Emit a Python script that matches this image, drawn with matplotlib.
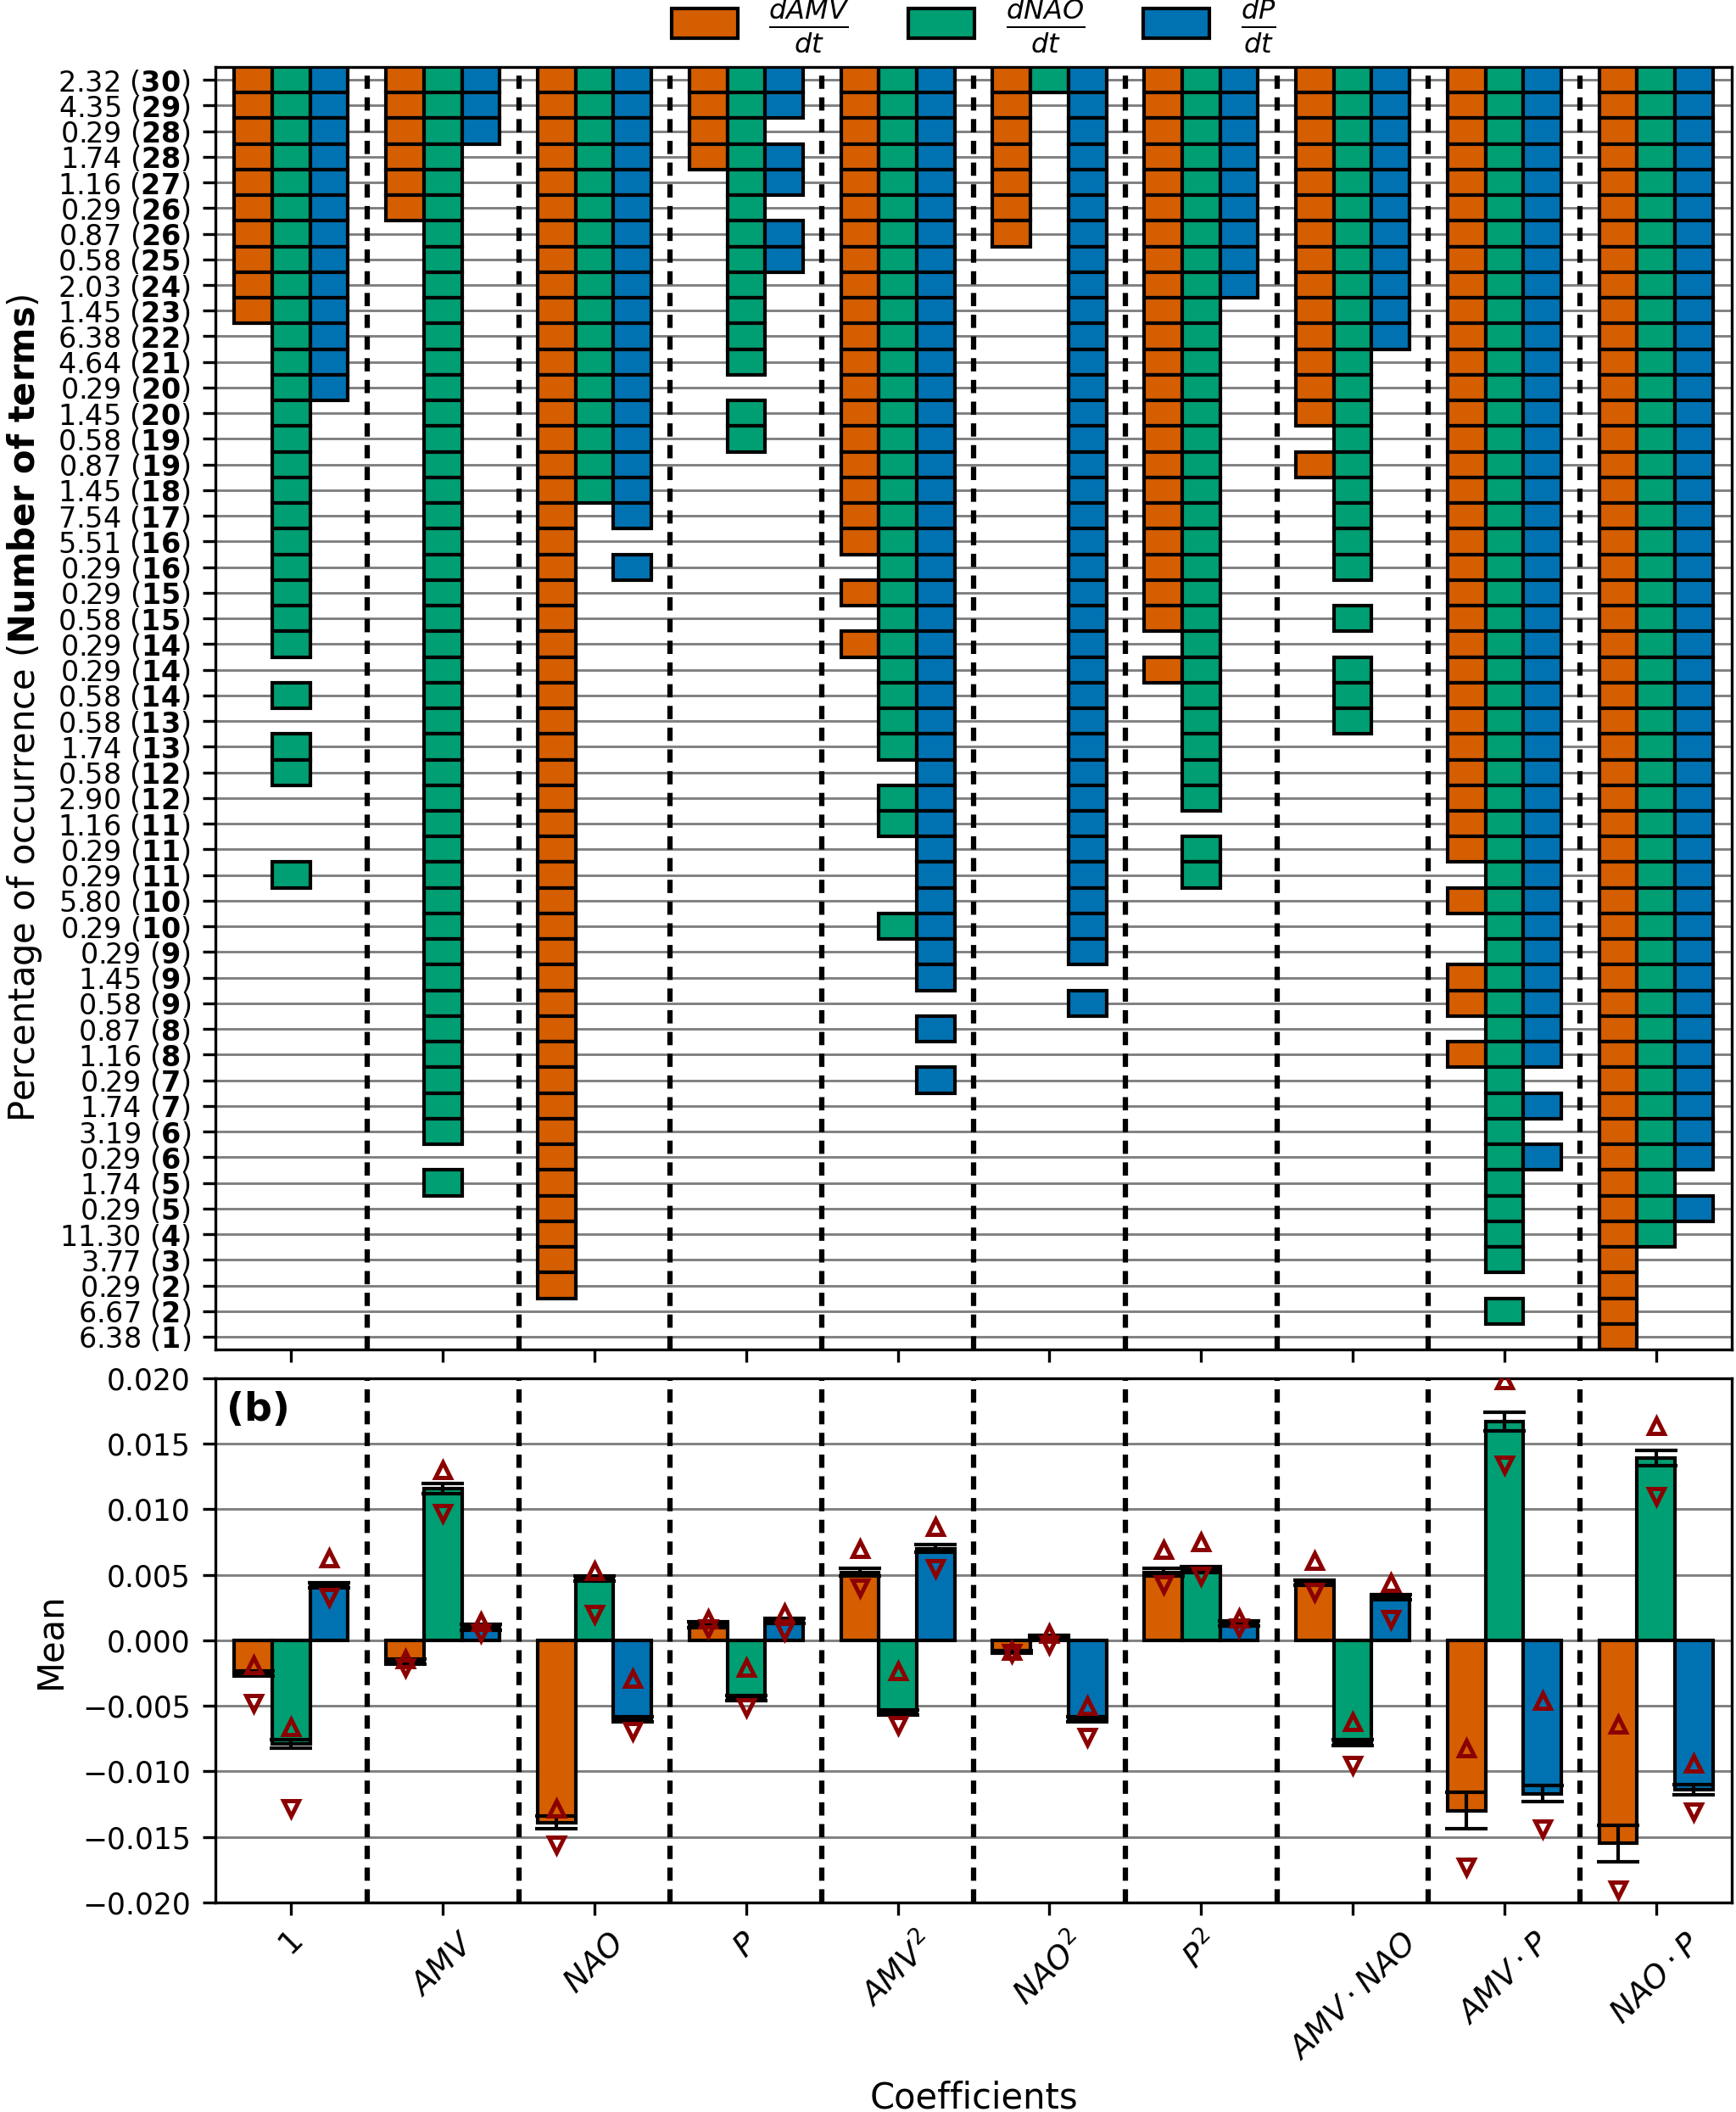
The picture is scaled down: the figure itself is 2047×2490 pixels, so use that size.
import matplotlib
matplotlib.use('Agg')
import matplotlib.pyplot as plt
import numpy as np

# rows of the top panel (top to bottom): percentage of occurrence and number of terms
pct = [2.32, 4.35, 0.29, 1.74, 1.16, 0.29, 0.87, 0.58, 2.03, 1.45,
       6.38, 4.64, 0.29, 1.45, 0.58, 0.87, 1.45, 7.54, 5.51, 0.29,
       0.29, 0.58, 0.29, 0.29, 0.58, 0.58, 1.74, 0.58, 2.90, 1.16,
       0.29, 0.29, 5.80, 0.29, 0.29, 1.45, 0.58, 0.87, 1.16, 0.29,
       1.74, 3.19, 0.29, 1.74, 0.29, 11.30, 3.77, 0.29, 6.67, 6.38]
n_terms = [30, 29, 28, 28, 27, 26, 26, 25, 24, 23,
           22, 21, 20, 20, 19, 19, 18, 17, 16, 16,
           15, 15, 14, 14, 14, 13, 13, 12, 12, 11,
           11, 11, 10, 10, 9, 9, 9, 8, 8, 7,
           7, 6, 6, 5, 5, 4, 3, 2, 2, 1]

coefs = ['$1$', '$AMV$', '$NAO$', '$P$', '$AMV^2$', '$NAO^2$', '$P^2$',
         r'$AMV \cdot NAO$', r'$AMV \cdot P$', r'$NAO \cdot P$']

# rows (1-based, inclusive spans) where each term is present, one list per coefficient
rows_amv = [[(1, 10)], [(1, 6)], [(1, 48)], [(1, 4)],
            [(1, 19), (21, 21), (23, 23)], [(1, 7)], [(1, 22), (24, 24)],
            [(1, 14), (16, 16)], [(1, 31), (33, 33), (36, 37), (39, 39)], [(1, 50)]]
rows_nao = [[(1, 23), (25, 25), (27, 28), (32, 32)], [(1, 42), (44, 44)], [(1, 17)],
            [(1, 12), (14, 15)], [(1, 27), (29, 30), (34, 34)], [(1, 1)],
            [(1, 29), (31, 32)], [(1, 20), (22, 22), (24, 26)], [(1, 47), (49, 49)], [(1, 46)]]
rows_p = [[(1, 13)], [(1, 3)], [(1, 18), (20, 20)], [(1, 2), (4, 5), (7, 8)],
          [(1, 36), (38, 38), (40, 40)], [(1, 35), (37, 37)], [(1, 9)], [(1, 11)],
          [(1, 39), (41, 41), (43, 43)], [(1, 43), (45, 45)]]

# bottom panel: mean, error and upper/lower markers
mean_amv = [-0.0025, -0.0016, -0.0139, 0.0012, 0.0052, -0.0009, 0.0052, 0.0044, -0.0130, -0.0155]
err_amv = [0.0002, 0.0002, 0.0005, 0.0002, 0.0003, 0.0001, 0.0003, 0.0002, 0.0014, 0.0014]
mean_nao = [-0.0079, 0.0116, 0.0047, -0.0044, -0.0055, 0.0003, 0.0054, -0.0078, 0.0167, 0.0139]
err_nao = [0.0003, 0.0004, 0.0002, 0.0002, 0.0002, 0.0001, 0.0002, 0.0002, 0.0007, 0.0006]
mean_p = [0.0042, 0.0010, -0.0060, 0.0015, 0.0070, -0.0060, 0.0013, 0.0033, -0.0117, -0.0114]
err_p = [0.0002, 0.0002, 0.0002, 0.0002, 0.0003, 0.0002, 0.0002, 0.0002, 0.0006, 0.0004]

up_amv = [-0.0019, -0.0014, -0.0128, 0.0016, 0.0070, -0.0008, 0.0069, 0.0061, -0.0082, -0.0064]
lo_amv = [-0.0048, -0.0021, -0.0156, 0.0009, 0.0040, -0.0010, 0.0043, 0.0037, -0.0173, -0.0190]
up_nao = [-0.0066, 0.0130, 0.0053, -0.0021, -0.0023, 0.0005, 0.0075, -0.0062, 0.0199, 0.0164]
lo_nao = [-0.0128, 0.0097, 0.0020, -0.0051, -0.0065, -0.0003, 0.0049, -0.0095, 0.0134, 0.0110]
up_p = [0.0063, 0.0014, -0.0029, 0.0021, 0.0087, -0.0050, 0.0017, 0.0044, -0.0046, -0.0094]
lo_p = [0.0033, 0.0006, -0.0069, 0.0007, 0.0055, -0.0074, 0.0010, 0.0016, -0.0144, -0.0131]

colors = ['#D55E00', '#009E73', '#0072B2']
eq_labels = [r'$\frac{dAMV}{dt}$', r'$\frac{dNAO}{dt}$', r'$\frac{dP}{dt}$']
width = 0.25
offsets = [-width, 0, width]

fig = plt.figure(figsize=(2047 / 300, 2490 / 300), dpi=300)
ax1 = fig.add_axes([0.1241, 0.3610, 0.8735, 0.6073])
ax2 = fig.add_axes([0.1241, 0.0992, 0.8735, 0.2482])

x = np.arange(len(coefs))
nrows = len(pct)

# ---- top panel: presence grid
handles = []
for k, rows_eq in enumerate([rows_amv, rows_nao, rows_p]):
    for i, spans in enumerate(rows_eq):
        cells = [r for a, b in spans for r in range(a, b + 1)]
        b = ax1.bar(np.full(len(cells), x[i] + offsets[k]), 1, bottom=np.array(cells) - 0.5,
                    width=width, color=colors[k], edgecolor='k', linewidth=1.0, zorder=3)
        if i == 0:
            handles.append(b)

ax1.set_ylim(nrows + 0.5, 0.5)
ax1.set_xlim(-0.5, len(coefs) - 0.5)
ax1.set_yticks(np.arange(1, nrows + 1))
ax1.set_yticklabels([f'{p:.2f} ($\\bf{{{n}}}$)' for p, n in zip(pct, n_terms)], fontsize=8)
ax1.set_xticks(x)
ax1.set_xticklabels([])
ax1.yaxis.grid(True, color='gray', linewidth=0.7)
ax1.set_axisbelow(True)
ax1.set_ylabel(r'Percentage of occurrence ($\bf{Number\ of\ terms}$)', fontsize=10)
for xv in x[:-1] + 0.5:
    ax1.axvline(xv, color='k', linestyle=(0, (2.5, 1.6)), linewidth=1.5, zorder=2)

ax1.legend(handles, eq_labels, loc='lower center', bbox_to_anchor=(0.5, 0.995), ncol=3,
           frameon=False, fontsize=11, handlelength=1.7, handleheight=0.8,
           columnspacing=1.5, borderaxespad=0.1)

# ---- bottom panel: mean values
means = [mean_amv, mean_nao, mean_p]
errs = [err_amv, err_nao, err_p]
ups = [up_amv, up_nao, up_p]
los = [lo_amv, lo_nao, lo_p]
for k in range(3):
    xp = x + offsets[k]
    ax2.bar(xp, means[k], width=width, color=colors[k], edgecolor='k', linewidth=1.0, zorder=3)
    ax2.errorbar(xp, means[k], yerr=errs[k], fmt='none', ecolor='k', elinewidth=1.0,
                 capsize=6, capthick=1.0, zorder=4)
    ax2.plot(xp, ups[k], linestyle='none', marker='^', markersize=4.5, markerfacecolor='none',
             markeredgecolor='darkred', markeredgewidth=1.2, zorder=5)
    ax2.plot(xp, los[k], linestyle='none', marker='v', markersize=4.5, markerfacecolor='none',
             markeredgecolor='darkred', markeredgewidth=1.2, zorder=5)

ax2.set_xlim(-0.5, len(coefs) - 0.5)
ax2.set_ylim(-0.02, 0.02)
ax2.set_yticks(np.linspace(-0.02, 0.02, 9))
ax2.tick_params(axis='y', labelsize=8.3)
ax2.set_xticks(x)
ax2.set_xticklabels(coefs, rotation=45, fontsize=9)
ax2.yaxis.grid(True, color='gray', linewidth=0.7)
ax2.set_axisbelow(True)
for xv in x[:-1] + 0.5:
    ax2.axvline(xv, color='k', linestyle=(0, (2.5, 1.6)), linewidth=1.5, zorder=2)
ax2.set_ylabel('Mean', fontsize=10)
ax2.set_xlabel('Coefficients', fontsize=10)
ax2.text(0.007, 0.975, '(b)', transform=ax2.transAxes, fontsize=11, fontweight='bold',
         va='top', ha='left')

fig.savefig('out.png', dpi=300)
